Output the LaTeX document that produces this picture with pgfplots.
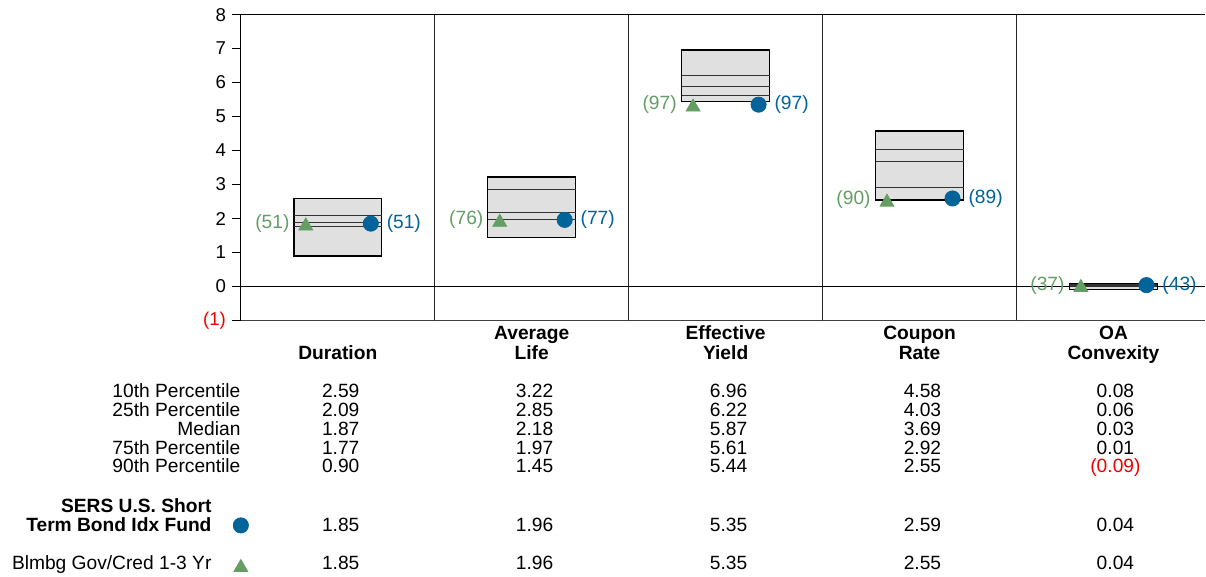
\documentclass[border=0pt]{standalone}
\usepackage{pgfplots}
\pgfplotsset{compat=1.18}
\usepackage{fontspec}
\setmainfont{Liberation Sans}
\definecolor{grn}{RGB}{100,158,100}
\definecolor{blu}{RGB}{0,99,153}
\definecolor{boxg}{RGB}{224,224,224}
\definecolor{red1}{RGB}{240,0,0}
\newcommand\fs{\fontsize{9.6}{11}\selectfont}
\newcommand\fr{\fontsize{9.6}{11}\selectfont}
\newcommand\ft{\fontsize{9.3}{11}\selectfont}
\begin{document}
\begin{tikzpicture}
\begin{axis}[
 scale only axis, width=482.5pt, height=153pt,
 xmin=0, xmax=4.974, ymin=-1, ymax=8,
 axis line style={draw=none},
 xtick=\empty,
 ytick={-1,0,...,8},
 yticklabels={{\color{red1}(1)},0,1,2,3,4,5,6,7,8},
 ytick pos=left, tick align=outside, major tick length=4.5pt,
 tick style={black, line width=0.5pt},
 yticklabel style={font=\ft, inner sep=2.8pt},
 clip=false,
 /pgf/number format/assume math mode=true,
]
% bounding box of the whole picture
\path (axis cs:-1.242,8.43) rectangle (axis cs:4.974,-8.48);
% frame
\draw[black!75, line width=0.5pt] (axis cs:0,-1) -- (axis cs:4.974,-1);
\draw[black, line width=0.6pt] (axis cs:0,8) -- (axis cs:4.974,8);
\draw[black, line width=0.6pt] (axis cs:0,-1) -- (axis cs:0,8);
\draw[black!85, line width=0.6pt] (axis cs:1,-1) -- (axis cs:1,8);
\draw[black!85, line width=0.6pt] (axis cs:2,-1) -- (axis cs:2,8);
\draw[black!85, line width=0.6pt] (axis cs:3,-1) -- (axis cs:3,8);
\draw[black!85, line width=0.6pt] (axis cs:4,-1) -- (axis cs:4,8);
\draw[black, line width=0.5pt] (axis cs:0,0) -- (axis cs:4.974,0);

% boxes (10th to 90th percentile)
\pgfplotsset{boxst/.style={fill=boxg, draw=black, line width=0.7pt},
  inl/.style={black!80, line width=0.5pt},
  fund/.style={only marks, mark=*, mark size=3.8pt, blu, mark options={fill=blu, draw=blu}},
  bench/.style={only marks, mark=triangle*, mark size=4pt, grn, mark options={fill=grn, draw=grn, yshift=-1.2pt}}}
% Duration
\addplot[boxst] coordinates {(0.2732,0.90) (0.7268,0.90) (0.7268,2.59) (0.2732,2.59)} -- cycle;
\addplot[inl] coordinates {(0.2732,2.09) (0.7268,2.09)};
\addplot[inl] coordinates {(0.2732,1.87) (0.7268,1.87)};
\addplot[inl] coordinates {(0.2732,1.77) (0.7268,1.77)};
% Average Life
\addplot[boxst] coordinates {(1.2732,1.45) (1.7268,1.45) (1.7268,3.22) (1.2732,3.22)} -- cycle;
\addplot[inl] coordinates {(1.2732,2.85) (1.7268,2.85)};
\addplot[inl] coordinates {(1.2732,2.18) (1.7268,2.18)};
\addplot[inl] coordinates {(1.2732,1.97) (1.7268,1.97)};
% Effective Yield
\addplot[boxst] coordinates {(2.2732,5.44) (2.7268,5.44) (2.7268,6.96) (2.2732,6.96)} -- cycle;
\addplot[inl] coordinates {(2.2732,6.22) (2.7268,6.22)};
\addplot[inl] coordinates {(2.2732,5.87) (2.7268,5.87)};
\addplot[inl] coordinates {(2.2732,5.61) (2.7268,5.61)};
% Coupon Rate
\addplot[boxst] coordinates {(3.2732,2.55) (3.7268,2.55) (3.7268,4.58) (3.2732,4.58)} -- cycle;
\addplot[inl] coordinates {(3.2732,4.03) (3.7268,4.03)};
\addplot[inl] coordinates {(3.2732,3.69) (3.7268,3.69)};
\addplot[inl] coordinates {(3.2732,2.92) (3.7268,2.92)};
% OA Convexity
\addplot[boxst] coordinates {(4.2732,-0.09) (4.7268,-0.09) (4.7268,0.08) (4.2732,0.08)} -- cycle;
\addplot[inl] coordinates {(4.2732,0.06) (4.7268,0.06)};
\addplot[inl] coordinates {(4.2732,0.03) (4.7268,0.03)};
\addplot[inl] coordinates {(4.2732,0.01) (4.7268,0.01)};

% benchmark (triangles) and fund (circles)
\addplot[bench] coordinates {(0.335,1.85) (1.335,1.96) (2.332,5.35) (3.332,2.55) (4.332,0.04)};
\addplot[fund] coordinates {(0.67,1.85) (1.67,1.96) (2.67,5.35) (3.67,2.59) (4.67,0.04)};
% legend markers
\addplot[fund] coordinates {(0,-7.03)};
\addplot[bench] coordinates {(0,-8.2)};

% rank labels
\node[font=\fr, text=grn, anchor=east, inner sep=0pt, xshift=-8pt] at (axis cs:0.335,1.85) {(51)};
\node[font=\fr, text=blu, anchor=west, inner sep=0pt, xshift=7.8pt] at (axis cs:0.67,1.85) {(51)};
\node[font=\fr, text=grn, anchor=east, inner sep=0pt, xshift=-8pt] at (axis cs:1.335,1.96) {(76)};
\node[font=\fr, text=blu, anchor=west, inner sep=0pt, xshift=7.8pt] at (axis cs:1.67,1.96) {(77)};
\node[font=\fr, text=grn, anchor=east, inner sep=0pt, xshift=-8pt] at (axis cs:2.332,5.35) {(97)};
\node[font=\fr, text=blu, anchor=west, inner sep=0pt, xshift=7.8pt] at (axis cs:2.67,5.35) {(97)};
\node[font=\fr, text=grn, anchor=east, inner sep=0pt, xshift=-8pt] at (axis cs:3.332,2.55) {(90)};
\node[font=\fr, text=blu, anchor=west, inner sep=0pt, xshift=7.8pt] at (axis cs:3.67,2.59) {(89)};
\node[font=\fr, text=grn, anchor=east, inner sep=0pt, xshift=-8pt] at (axis cs:4.332,0.04) {(37)};
\node[font=\fr, text=blu, anchor=west, inner sep=0pt, xshift=7.8pt] at (axis cs:4.67,0.04) {(43)};

% category headers
\node[font=\fs\bfseries, anchor=base] at (axis cs:0.5,-2.135) {Duration};
\node[font=\fs\bfseries, anchor=base] at (axis cs:1.5,-1.568) {Average};
\node[font=\fs\bfseries, anchor=base] at (axis cs:1.5,-2.135) {Life};
\node[font=\fs\bfseries, anchor=base] at (axis cs:2.5,-1.568) {Effective};
\node[font=\fs\bfseries, anchor=base] at (axis cs:2.5,-2.135) {Yield};
\node[font=\fs\bfseries, anchor=base] at (axis cs:3.5,-1.568) {Coupon};
\node[font=\fs\bfseries, anchor=base] at (axis cs:3.5,-2.135) {Rate};
\node[font=\fs\bfseries, anchor=base] at (axis cs:4.5,-1.568) {OA};
\node[font=\fs\bfseries, anchor=base] at (axis cs:4.5,-2.135) {Convexity};

% row labels
\node[font=\fs, anchor=base east, inner sep=0pt] at (axis cs:0,-3.264) {10th Percentile};
\node[font=\fs, anchor=base east, inner sep=0pt] at (axis cs:0,-3.820) {25th Percentile};
\node[font=\fs, anchor=base east, inner sep=0pt] at (axis cs:0,-4.376) {Median};
\node[font=\fs, anchor=base east, inner sep=0pt] at (axis cs:0,-4.932) {75th Percentile};
\node[font=\fs, anchor=base east, inner sep=0pt] at (axis cs:0,-5.488) {90th Percentile};
\node[font=\fs\bfseries, anchor=base east, inner sep=0pt] at (axis cs:-0.1495,-6.647) {SERS U.S. Short};
\node[font=\fs\bfseries, anchor=base east, inner sep=0pt] at (axis cs:-0.1495,-7.206) {Term Bond Idx Fund};
\node[font=\fs, anchor=base east, inner sep=0pt] at (axis cs:-0.1495,-8.332) {Blmbg Gov/Cred 1-3 Yr};

% table values
% Duration
\node[font=\fs, anchor=base] at (axis cs:0.515,-3.264) {2.59};
\node[font=\fs, anchor=base] at (axis cs:0.515,-3.820) {2.09};
\node[font=\fs, anchor=base] at (axis cs:0.515,-4.376) {1.87};
\node[font=\fs, anchor=base] at (axis cs:0.515,-4.932) {1.77};
\node[font=\fs, anchor=base] at (axis cs:0.515,-5.488) {0.90};
\node[font=\fs, anchor=base] at (axis cs:0.515,-7.206) {1.85};
\node[font=\fs, anchor=base] at (axis cs:0.515,-8.332) {1.85};
% Average Life
\node[font=\fs, anchor=base] at (axis cs:1.515,-3.264) {3.22};
\node[font=\fs, anchor=base] at (axis cs:1.515,-3.820) {2.85};
\node[font=\fs, anchor=base] at (axis cs:1.515,-4.376) {2.18};
\node[font=\fs, anchor=base] at (axis cs:1.515,-4.932) {1.97};
\node[font=\fs, anchor=base] at (axis cs:1.515,-5.488) {1.45};
\node[font=\fs, anchor=base] at (axis cs:1.515,-7.206) {1.96};
\node[font=\fs, anchor=base] at (axis cs:1.515,-8.332) {1.96};
% Effective Yield
\node[font=\fs, anchor=base] at (axis cs:2.515,-3.264) {6.96};
\node[font=\fs, anchor=base] at (axis cs:2.515,-3.820) {6.22};
\node[font=\fs, anchor=base] at (axis cs:2.515,-4.376) {5.87};
\node[font=\fs, anchor=base] at (axis cs:2.515,-4.932) {5.61};
\node[font=\fs, anchor=base] at (axis cs:2.515,-5.488) {5.44};
\node[font=\fs, anchor=base] at (axis cs:2.515,-7.206) {5.35};
\node[font=\fs, anchor=base] at (axis cs:2.515,-8.332) {5.35};
% Coupon Rate
\node[font=\fs, anchor=base] at (axis cs:3.515,-3.264) {4.58};
\node[font=\fs, anchor=base] at (axis cs:3.515,-3.820) {4.03};
\node[font=\fs, anchor=base] at (axis cs:3.515,-4.376) {3.69};
\node[font=\fs, anchor=base] at (axis cs:3.515,-4.932) {2.92};
\node[font=\fs, anchor=base] at (axis cs:3.515,-5.488) {2.55};
\node[font=\fs, anchor=base] at (axis cs:3.515,-7.206) {2.59};
\node[font=\fs, anchor=base] at (axis cs:3.515,-8.332) {2.55};
% OA Convexity
\node[font=\fs, anchor=base] at (axis cs:4.51,-3.264) {0.08};
\node[font=\fs, anchor=base] at (axis cs:4.51,-3.820) {0.06};
\node[font=\fs, anchor=base] at (axis cs:4.51,-4.376) {0.03};
\node[font=\fs, anchor=base] at (axis cs:4.51,-4.932) {0.01};
\node[font=\fs, anchor=base, text=red1] at (axis cs:4.51,-5.488) {(0.09)};
\node[font=\fs, anchor=base] at (axis cs:4.51,-7.206) {0.04};
\node[font=\fs, anchor=base] at (axis cs:4.51,-8.332) {0.04};
\end{axis}
\end{tikzpicture}
\end{document}
